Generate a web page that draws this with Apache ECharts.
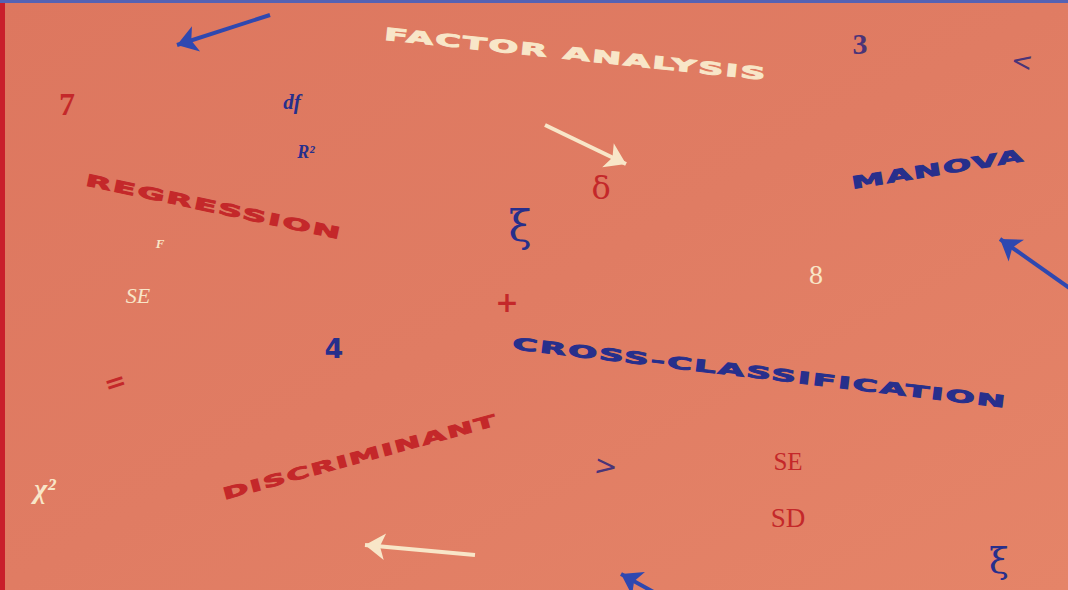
<!DOCTYPE html>
<html>
<head>
<meta charset="utf-8">
<script src="https://cdn.jsdelivr.net/npm/echarts@6/dist/echarts.min.js"></script>
<style>
html,body{margin:0;padding:0;background:#e07b63;}
#chart{width:1068px;height:590px;}
</style>
</head>
<body>
<div id="chart"></div>
<script>
// ---- data: labels placed on the cover (x, y in picture units) ----
const words = ['FACTOR ANALYSIS', 'REGRESSION', 'MANOVA', 'CROSS-CLASSIFICATION', 'DISCRIMINANT'];
const wordX = [576, 214, 938, 760, 360];
const wordY = [54, 207, 169, 373, 457];

const symbols = ['3', '<', '7', 'df', 'R²', 'F', 'SE', 'ξ', 'δ', '8', '+', '4', '=', 'χ²', '>', 'SE', 'SD', 'ξ'];
const symbolX = [860, 1022, 67, 292, 306, 160, 138, 520, 601, 816, 507, 334, 115, 45, 606, 788, 788, 999];
const symbolY = [43, 61, 104, 102, 152, 243, 295, 226, 188, 274, 302, 348, 382, 488, 466, 461, 518, 560];

const arrowFrom = [[270, 15], [545, 125], [1075, 292], [475, 555], [668, 600]];
const arrowTo   = [[177, 45], [626, 164], [1000, 239], [365, 545], [621, 574]];

// ---- styles (kept separate from the data) ----
const BLUE = '#272f8c', RED = '#c4282a', CREAM = '#f8e6c8', DARK = '#4a3478';
const wordStyle = [
  {color: CREAM, rotate: -6, size: 17, ls: 1, len: 385},
  {color: RED, rotate: -12, size: 16, ls: 1, len: 262},
  {color: BLUE, rotate: 9.2, size: 17, ls: 1, len: 175},
  {color: BLUE, rotate: -6.8, size: 16.5, ls: 1, len: 498},
  {color: RED, rotate: 15.3, size: 16, ls: 1, len: 284}
];
const symStyle = [
  {color: DARK, size: 30, font: 'Liberation Serif', weight: 'bold'},
  {color: DARK, size: 26, font: 'DejaVu Sans', weight: 'normal', rotate: -8},
  {color: RED, size: 32, font: 'Liberation Serif', weight: 'bold'},
  {color: BLUE, size: 21, font: 'Liberation Serif', weight: 'bold', style: 'italic'},
  {color: BLUE, size: 18, font: 'Liberation Serif', weight: 'bold', style: 'italic'},
  {color: CREAM, size: 13, font: 'Liberation Serif', weight: 'bold', style: 'italic'},
  {color: CREAM, size: 22, font: 'Liberation Serif', weight: 'normal', style: 'italic'},
  {color: BLUE, size: 42, font: 'DejaVu Serif', weight: 'normal'},
  {color: RED, size: 32, font: 'DejaVu Serif', weight: 'normal'},
  {color: CREAM, size: 28, font: 'Liberation Serif', weight: 'normal'},
  {color: RED, size: 28, font: 'DejaVu Sans', weight: 'bold'},
  {color: BLUE, size: 27, font: 'DejaVu Sans', weight: 'bold'},
  {color: RED, size: 26, font: 'DejaVu Sans', weight: 'bold', rotate: 18},
  {color: CREAM, size: 28, font: 'Liberation Serif', weight: 'bold', style: 'italic'},
  {color: DARK, size: 28, font: 'DejaVu Sans', weight: 'normal', rotate: -6},
  {color: RED, size: 25, font: 'Liberation Serif', weight: 'normal'},
  {color: RED, size: 27, font: 'Liberation Serif', weight: 'normal'},
  {color: BLUE, size: 36, font: 'DejaVu Serif', weight: 'normal'}
];
const arrowColor = ['#2f48b0', CREAM, '#2f48b0', CREAM, '#2f48b0'];

const chart = echarts.init(document.getElementById('chart'), null, {renderer: 'svg'});

const wordData = words.map((w, i) => ({
  name: w,
  value: [wordX[i], wordY[i]],
  label: {
    color: wordStyle[i].color, rotate: wordStyle[i].rotate, fontSize: wordStyle[i].size,
    textBorderColor: wordStyle[i].color, textBorderWidth: 0.9
  }
}));
const symData = symbols.map((s, i) => ({
  name: s,
  value: [symbolX[i], symbolY[i]],
  label: {
    color: symStyle[i].color, fontSize: symStyle[i].size, fontFamily: symStyle[i].font,
    fontWeight: symStyle[i].weight, fontStyle: symStyle[i].style || 'normal',
    rotate: symStyle[i].rotate || 0
  }
}));
const arrowData = arrowFrom.map((f, i) => ({
  coords: [f, arrowTo[i]],
  lineStyle: {color: arrowColor[i]}
}));

chart.setOption({
  animation: false,
  backgroundColor: '#e07b63',
  grid: {left: 0, right: 0, top: 0, bottom: 0},
  xAxis: {type: 'value', min: 0, max: 1068, show: false},
  yAxis: {type: 'value', min: 0, max: 590, inverse: true, show: false},
  graphic: [
    {type: 'rect', shape: {x: 0, y: 0, width: 1068, height: 590}, silent: true, z: -10,
      style: {fill: {type: 'linear', x: 0, y: 0, x2: 1, y2: 1,
        colorStops: [{offset: 0, color: '#dd775f'}, {offset: 0.5, color: '#e07c63'}, {offset: 1, color: '#e58468'}]}}},
    {type: 'rect', shape: {x: 0, y: 0, width: 5, height: 590}, silent: true, z: 10, style: {fill: '#c91f2b'}},
    {type: 'rect', shape: {x: 0, y: 0, width: 1068, height: 3}, silent: true, z: 10, style: {fill: '#5562b4'}}
  ],
  series: [
    {
      type: 'lines', coordinateSystem: 'cartesian2d', silent: true,
      symbol: ['none', 'arrow'], symbolSize: [9, 20],
      lineStyle: {width: 4, opacity: 1},
      data: arrowData
    },
    {
      type: 'scatter', symbolSize: 2, itemStyle: {color: 'rgba(0,0,0,0)'}, silent: true,
      labelLayout: {hideOverlap: false},
      label: {show: true, position: 'inside', formatter: '{b}', fontFamily: 'DejaVu Sans', fontWeight: 'bold',
        align: 'center', verticalAlign: 'middle', opacity: 1},
      data: wordData
    },
    {
      type: 'scatter', symbolSize: 2, itemStyle: {color: 'rgba(0,0,0,0)'}, silent: true,
      labelLayout: {hideOverlap: false},
      label: {show: true, position: 'inside', formatter: '{b}', align: 'center', verticalAlign: 'middle', opacity: 1},
      data: symData
    }
  ]
});

function spaceWords() {
  document.querySelectorAll('#chart text').forEach(t => {
    const idx = words.indexOf(t.textContent);
    if (idx >= 0) {
      t.setAttribute('letter-spacing', wordStyle[idx].ls);
      t.style.letterSpacing = wordStyle[idx].ls + 'px';
      t.setAttribute('textLength', wordStyle[idx].len);
      t.setAttribute('lengthAdjust', 'spacingAndGlyphs');
    }
  });
}
spaceWords();
chart.on('finished', spaceWords);
setTimeout(spaceWords, 50);
setTimeout(spaceWords, 300);
</script>
</body>
</html>
